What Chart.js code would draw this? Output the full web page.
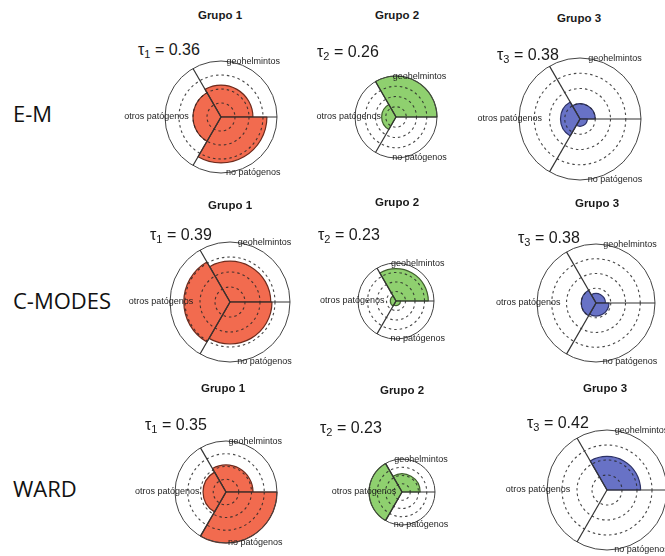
<!DOCTYPE html>
<html>
<head>
<meta charset="utf-8">
<script src="https://cdn.jsdelivr.net/npm/chart.js@4"></script>
<style>
  html, body { margin: 0; padding: 0; background: #fff; overflow: hidden; }
  #page { position: relative; width: 665px; height: 556px; }
  canvas { position: absolute; }
  .txt { position: absolute; white-space: nowrap; color: #1a1a1a; }
  .grp { font: bold 11.5px "Liberation Sans", Arial, sans-serif; transform: translate(-50%, -50%); }
  .tau { font: 16px "Liberation Sans", Arial, sans-serif; transform: translateY(-50%); }
  .tau sub { font-size: 11px; vertical-align: -3px; }
  .row { font: 22px "Open Sans", sans-serif; transform: translateY(-50%); color: #111; }
</style>
</head>
<body>
<div id="page"></div>
<script>
// data
var methods = ['E-M', 'C-MODES', 'WARD'];
var groups = ['Grupo 1', 'Grupo 2', 'Grupo 3'];
// clockwise from the upper-left divider
var categories = ['geohelmintos', 'no patógenos', 'otros patógenos'];
var tauEM = [0.36, 0.26, 0.38];
var tauCM = [0.39, 0.23, 0.38];
var tauWD = [0.35, 0.23, 0.42];
// radius of each sector, relative to the outer circle
var valuesEM = [[0.57, 0.82, 0.50], [1.00, 0.00, 0.35], [0.25, 0.12, 0.32]];
var valuesCM = [[0.68, 0.70, 0.77], [0.85, 0.12, 0.15], [0.16, 0.22, 0.25]];
var valuesWD = [[0.53, 1.00, 0.45], [0.55, 0.00, 1.00], [0.56, 0.00, 0.00]];
var radialTicks = [0, 0.25, 0.5, 0.75, 1];

var allTau = [tauEM, tauCM, tauWD];
var allValues = [valuesEM, valuesCM, valuesWD];

// layout: circle centre x, y and radius per panel
var panels = [
  [[221, 117, 56], [396, 117, 41], [580, 119, 61]],
  [[230, 302, 60], [396, 301, 38], [596, 303, 59]],
  [[226, 492, 51], [402, 492, 33], [607, 490, 60]]
];
var titlePos = [
  [[220, 15], [397, 15], [579, 18]],
  [[230, 205], [397, 202], [597, 203]],
  [[223, 388], [402, 390], [605, 388]]
];
var tauPos = [
  [[138, 50], [317, 52], [497, 55]],
  [[150, 235], [318, 235], [518, 238]],
  [[145, 425], [320, 428], [527, 423]]
];
var rowPos = [[13, 113], [13, 300], [13, 488]];
var fillColors = ['#F26B4F', '#8FD06F', '#6872C6'];
var edgeColors = ['#6e2a1c', '#3f5e2c', '#2c3166'];

var page = document.getElementById('page');
var BOX_W = 250, BOX_H = 180;

function addText(cls, html, x, y) {
  var d = document.createElement('div');
  d.className = 'txt ' + cls;
  d.innerHTML = html;
  d.style.left = x + 'px';
  d.style.top = y + 'px';
  page.appendChild(d);
}

// sector names drawn around the outer circle
var sectorLabels = {
  id: 'sectorLabels',
  afterDraw: function (chart) {
    var s = chart.scales.r;
    var ctx = chart.ctx;
    var n = chart.data.labels.length;
    ctx.save();
    ctx.font = '9px "Liberation Sans", Arial, sans-serif';
    ctx.fillStyle = '#1e1e1e';
    ctx.textAlign = 'center';
    ctx.textBaseline = 'middle';
    chart.data.labels.forEach(function (lab, i) {
      var mid = s.getIndexAngle(i) + Math.PI / n - Math.PI / 2;
      var d = s.drawingArea * 1.15;
      ctx.fillText(lab, s.xCenter + Math.cos(mid) * d, s.yCenter + Math.sin(mid) * d);
    });
    ctx.restore();
  }
};

methods.forEach(function (m, r) {
  addText('row', m, rowPos[r][0], rowPos[r][1]);
  groups.forEach(function (g, c) {
    addText('grp', g, titlePos[r][c][0], titlePos[r][c][1]);
    addText('tau', '&tau;<sub>' + (c + 1) + '</sub> = ' + allTau[r][c].toFixed(2), tauPos[r][c][0], tauPos[r][c][1]);

    var p = panels[r][c];
    var cv = document.createElement('canvas');
    cv.width = BOX_W;
    cv.height = BOX_H;
    cv.style.left = (p[0] - BOX_W / 2) + 'px';
    cv.style.top = (p[1] - BOX_H / 2) + 'px';
    page.appendChild(cv);

    var vals = allValues[r][c];
    new Chart(cv.getContext('2d'), {
      type: 'polarArea',
      data: {
        labels: categories,
        datasets: [{
          data: vals,
          backgroundColor: fillColors[c],
          borderColor: edgeColors[c],
          borderWidth: vals.map(function (v) { return v > 0 ? 1.2 : 0; })
        }]
      },
      options: {
        responsive: false,
        animation: false,
        layout: {
          padding: {
            left: BOX_W / 2 - p[2], right: BOX_W / 2 - p[2],
            top: BOX_H / 2 - p[2], bottom: BOX_H / 2 - p[2]
          }
        },
        plugins: { legend: { display: false }, tooltip: { enabled: false } },
        scales: {
          r: {
            min: radialTicks[0],
            max: radialTicks[radialTicks.length - 1],
            startAngle: -30,
            afterBuildTicks: function (axis) {
              axis.ticks = radialTicks.map(function (v) { return { value: v }; });
            },
            ticks: { display: false },
            pointLabels: { display: false },
            angleLines: { display: true, color: '#333', lineWidth: 1.2 },
            grid: {
              z: 1,
              color: function (ctx) { return ctx.index === radialTicks.length - 1 ? '#444' : 'rgba(40,40,40,0.85)'; },
              lineWidth: function (ctx) { return ctx.index === radialTicks.length - 1 ? 1 : 1.1; }
            },
            border: {
              dash: function (ctx) { return ctx.index === radialTicks.length - 1 ? [] : [2.5, 3]; }
            }
          }
        }
      },
      plugins: [sectorLabels]
    });
  });
});
</script>
</body>
</html>
